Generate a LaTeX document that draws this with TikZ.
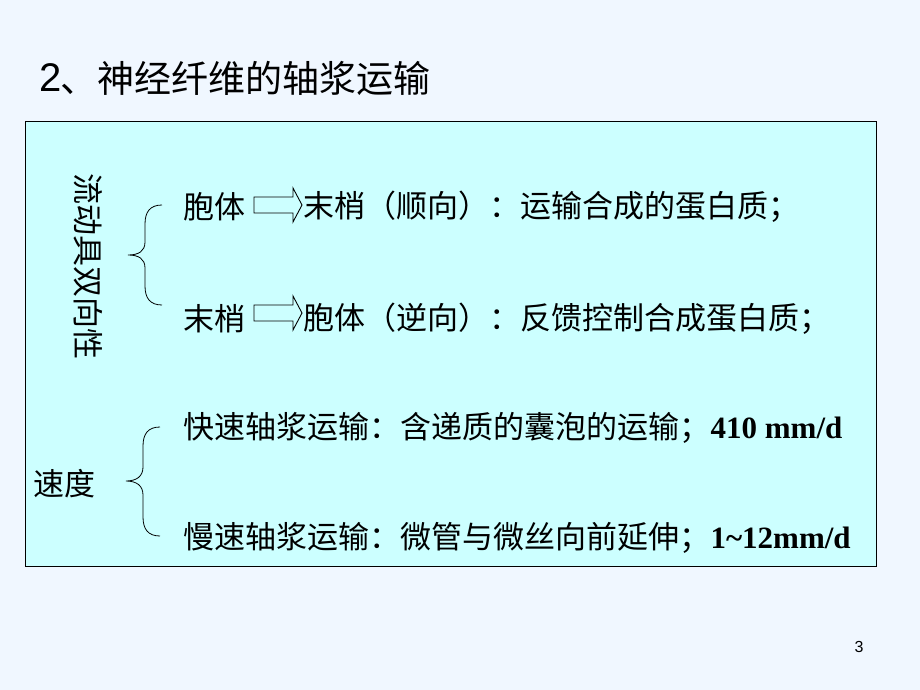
\documentclass[tikz,border=0pt]{standalone}
\usepackage{fontspec}
\setmainfont{Liberation Serif}
\newfontfamily\cjk{Noto Sans CJK SC}
\newfontfamily\arialf{Liberation Sans}
\newfontfamily\tnrf{Liberation Serif}
\definecolor{pagebg}{HTML}{F0F7FF}
\definecolor{boxfill}{HTML}{CCFFFF}
\begin{document}
\begin{tikzpicture}[x=1pt,y=-1pt]
\tikzset{
  body/.style={inner sep=0pt, anchor=west, font=\cjk\fontsize{31}{31}\selectfont},
  num/.style={inner sep=0pt, anchor=west, font=\tnrf\bfseries\fontsize{31}{31}\selectfont},
  ttl/.style={inner sep=0pt, anchor=west, font=\cjk\fontsize{37}{37}\selectfont},
  brace/.style={draw=black, line width=0.8pt},
  blockarrow/.style={draw=black, fill=boxfill, line width=0.9pt, line join=miter},
  barrow/.pic={\draw[blockarrow] (0,-8) -- (39,-8) -- (39,-17) -- (48,0) -- (39,17) -- (39,8) -- (0,8) -- cycle;},
}
\fill[pagebg] (0,0) rectangle (920,690);
\useasboundingbox (0,0) rectangle (920,690);

\node[ttl, font=\arialf\fontsize{40}{40}\selectfont] (tnum) at (39,78) {2};
\node[ttl] (title) at (60,78) {、神经纤维的轴浆运输};

\node[draw=black, fill=boxfill, line width=1pt, inner sep=0pt, anchor=north west,
      minimum width=851pt, minimum height=445pt] (panel) at (25,121) {};

% vertical label
\node[body, anchor=center, rotate=-90] (flow) at (88,266) {流动具双向性};

% brace 1
\coordinate (b1top) at (162,205);
\coordinate (b1tip) at (128,255);
\coordinate (b1bot) at (162,305);
\draw[brace] (b1top) .. controls (150,205) and (145,212) .. (145,224) -- (145,242)
  .. controls (145,251) and (139,255) .. (b1tip)
  .. controls (139,255) and (145,259) .. (145,268) -- (145,286)
  .. controls (145,298) and (150,305) .. (b1bot);

\node[body] (l1a) at (183,207) {胞体};
\pic (a1) at (254,205) {barrow};
\node[body] (l1b) at (303,207) {末梢（顺向）：运输合成的蛋白质；};

\node[body] (l2a) at (183,319) {末梢};
\pic (a2) at (254,313) {barrow};
\node[body] (l2b) at (303,319) {胞体（逆向）：反馈控制合成蛋白质；};

% speed
\node[body] (speed) at (33,484) {速度};
\coordinate (b2top) at (160,427);
\coordinate (b2tip) at (126,481);
\coordinate (b2bot) at (160,536);
\draw[brace] (b2top) .. controls (148,427) and (143,434) .. (143,446) -- (143,467)
  .. controls (143,476) and (137,481) .. (b2tip)
  .. controls (137,481) and (143,486) .. (143,495) -- (143,517)
  .. controls (143,529) and (148,536) .. (b2bot);

\node[body] (l3a) at (183,428) {快速轴浆运输：含递质的囊泡的运输；};
\node[num] (l3b) at (l3a.east) {410 mm/d};

\node[body] (l4a) at (183,538) {慢速轴浆运输：微管与微丝向前延伸；};
\node[num] (l4b) at (l4a.east) {1\textasciitilde12mm/d};

\node[font=\arialf\fontsize{16}{16}\selectfont, inner sep=0pt] (pnum) at (859,647) {3};
\end{tikzpicture}
\end{document}
